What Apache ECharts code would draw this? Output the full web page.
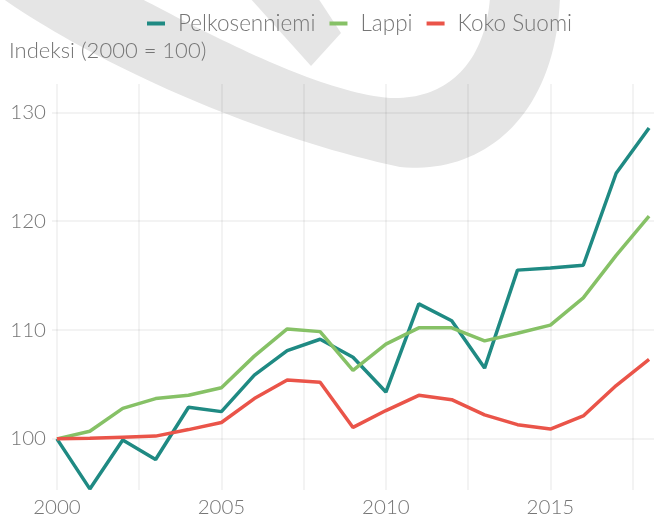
<!DOCTYPE html>
<html>
<head>
<meta charset="utf-8">
<script src="https://cdn.jsdelivr.net/npm/echarts@6/dist/echarts.min.js"></script>
<style>
html,body{margin:0;padding:0;background:#fff;}
#chart{width:654px;height:518px;}
</style>
</head>
<body>
<div id="chart"></div>
<script>
const years = [2000, 2001, 2002, 2003, 2004, 2005, 2006, 2007, 2008, 2009, 2010, 2011, 2012, 2013, 2014, 2015, 2016, 2017, 2018];
const pelkosenniemi = [100, 95.4, 99.9, 98.1, 102.9, 102.5, 105.85, 108.1, 109.15, 107.5, 104.3, 112.4, 110.85, 106.5, 115.5, 115.7, 115.95, 124.4, 128.55];
const lappi = [100, 100.7, 102.8, 103.7, 104.0, 104.7, 107.6, 110.1, 109.85, 106.3, 108.7, 110.2, 110.2, 109.0, 109.7, 110.45, 112.95, 116.85, 120.45];
const kokoSuomi = [100, 100.05, 100.15, 100.25, 100.85, 101.5, 103.7, 105.4, 105.2, 101.05, 102.6, 104.0, 103.6, 102.2, 101.3, 100.9, 102.1, 104.9, 107.3];
const seriesNames = ['Pelkosenniemi', 'Lappi', 'Koko Suomi'];
const xTickLabels = [2000, 2005, 2010, 2015];
const xGridValues = [2000, 2002.5, 2005, 2007.5, 2010, 2012.5, 2015, 2017.5];
const yTickLabels = [100, 110, 120, 130];
const yAxisTitle = 'Indeksi (2000 = 100)';

const colors = ['#1f8a83', '#86c166', '#ea5449'];
const fontFamily = 'Lato, "Open Sans", sans-serif';
const textColor = '#767676';
const gridColor = 'rgba(0,0,0,0.065)';
const watermark = '#e5e5e5';

// background watermark outline (decoration): sampled cubic bezier segments
function bez(p0, p1, p2, p3, n) {
  const out = [];
  for (let i = 0; i <= n; i++) {
    const t = i / n, u = 1 - t;
    out.push([
      u*u*u*p0[0] + 3*u*u*t*p1[0] + 3*u*t*t*p2[0] + t*t*t*p3[0],
      u*u*u*p0[1] + 3*u*u*t*p1[1] + 3*u*t*t*p2[1] + t*t*t*p3[1]
    ]);
  }
  return out;
}
const markOutline = [].concat(
  bez([2, -2], [90, 60], [250, 135], [400, 167], 40),
  bez([400, 167], [480, 175], [555, 120], [560, -2], 40),
  bez([490, -2], [485, 60], [450, 100], [390, 98], 40),
  bez([390, 98], [320, 92], [220, 40], [140, -2], 40)
);
const markBand = [[250, -2], [318, -2], [341, 33], [311, 66]];

const chart = echarts.init(document.getElementById('chart'), null, {renderer: 'canvas'});

function pairs(vals) { return years.map((y, i) => [y, vals[i]]); }

const option = {
  animation: false,
  backgroundColor: '#ffffff',
  color: colors,
  graphic: [
    {
      type: 'polygon',
      z: -10,
      silent: true,
      shape: { points: markOutline },
      style: { fill: watermark }
    },
    {
      type: 'polygon',
      z: -10,
      silent: true,
      shape: { points: markBand },
      style: { fill: watermark }
    }
  ],
  title: {
    text: yAxisTitle,
    left: 4,
    top: 35,
    textStyle: { fontFamily: fontFamily, fontSize: 22, fontWeight: 300, color: textColor }
  },
  legend: {
    data: seriesNames,
    left: 147,
    top: 12,
    padding: 0,
    icon: 'rect',
    itemWidth: 18,
    itemHeight: 4,
    itemGap: 14,
    textStyle: { fontFamily: fontFamily, fontSize: 22.5, fontWeight: 300, color: textColor, padding: [0, 0, 0, 8] }
  },
  grid: { left: 52, right: 0, top: 84, bottom: 25, containLabel: false },
  xAxis: {
    type: 'value',
    min: 1999.85,
    max: 2018.15,
    axisLine: { show: false },
    axisTick: { show: false, customValues: xGridValues },
    axisLabel: {
      customValues: xTickLabels,
      margin: 7,
      fontFamily: fontFamily, fontSize: 20.5, fontWeight: 300, color: textColor,
      formatter: v => String(Math.round(v))
    },
    splitLine: { show: true, lineStyle: { color: gridColor, width: 1.5 } }
  },
  yAxis: {
    type: 'value',
    min: 95.3,
    max: 132.6,
    axisLine: { show: false },
    axisTick: { show: false, customValues: yTickLabels },
    axisLabel: {
      customValues: yTickLabels,
      margin: 6,
      fontFamily: fontFamily, fontSize: 20.5, fontWeight: 300, color: textColor,
      formatter: v => String(Math.round(v))
    },
    splitLine: { show: true, lineStyle: { color: gridColor, width: 1.5 } }
  },
  series: [
    { name: seriesNames[0], type: 'line', data: pairs(pelkosenniemi), symbol: 'none', lineStyle: { width: 3.5 }, clip: true },
    { name: seriesNames[1], type: 'line', data: pairs(lappi), symbol: 'none', lineStyle: { width: 3.5 }, clip: true },
    { name: seriesNames[2], type: 'line', data: pairs(kokoSuomi), symbol: 'none', lineStyle: { width: 3.5 }, clip: true }
  ]
};
chart.setOption(option);
</script>
</body>
</html>
